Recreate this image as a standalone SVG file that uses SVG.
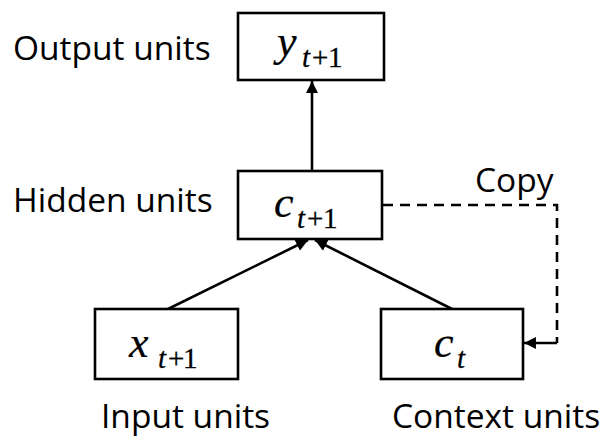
<svg xmlns="http://www.w3.org/2000/svg" width="601" height="437" viewBox="0 0 601 437">
  <style>
    .box { fill: #ffffff; stroke: #000000; stroke-width: 2.6; }
    .label { font-family: "Open Sans", "Liberation Sans", sans-serif; font-size: 33.5px; fill: #000000; }
    .var { font-family: "Liberation Serif", serif; font-style: italic; font-size: 44px; fill: #000000; stroke: #000000; stroke-width: 0.2; }
    .sub { font-family: "Liberation Serif", serif; font-size: 29px; fill: #000000; stroke: #000000; stroke-width: 0.3; }
    .sub-i { font-style: italic; }
    .edge { stroke: #000000; stroke-width: 2.6; fill: none; }
    .dash { stroke-dasharray: 10 7; }
  </style>
  <defs>
    <marker id="arrow" viewBox="0 0 10 10" refX="10" refY="5" markerWidth="4.8" markerHeight="4.6" orient="auto" markerUnits="strokeWidth">
      <path d="M0,0 L10,5 L0,10 Z" fill="#000000"/>
    </marker>
  </defs>

  <rect width="601" height="437" fill="#ffffff"/>

  <!-- connectors -->
  <g id="connectors">
    <line class="edge" x1="312" y1="171" x2="312" y2="81" marker-end="url(#arrow)"/>
    <line class="edge" x1="168" y1="309" x2="308" y2="240" marker-end="url(#arrow)"/>
    <line class="edge" x1="452" y1="309" x2="315" y2="240" marker-end="url(#arrow)"/>
    <path class="edge dash" d="M383,205 H557 V343"/>
    <line class="edge" x1="557" y1="343" x2="524" y2="343" marker-end="url(#arrow)"/>
  </g>

  <!-- output layer: y_{t+1} -->
  <g id="output">
    <rect class="box" x="238" y="13" width="146" height="67"/>
    <text class="var" x="277" y="56">y</text>
    <text class="sub" y="67"><tspan class="sub-i" x="302">t</tspan><tspan x="312">+</tspan><tspan x="328">1</tspan></text>
  </g>

  <!-- hidden layer: c_{t+1} -->
  <g id="hidden">
    <rect class="box" x="238" y="171" width="144" height="68"/>
    <text class="var" x="274" y="217">c</text>
    <text class="sub" y="228"><tspan class="sub-i" x="297">t</tspan><tspan x="307">+</tspan><tspan x="323">1</tspan></text>
  </g>

  <!-- input layer: x_{t+1} -->
  <g id="input">
    <rect class="box" x="95" y="309" width="143" height="70"/>
    <text class="var" x="129" y="357">x</text>
    <text class="sub" y="368"><tspan class="sub-i" x="158">t</tspan><tspan x="168">+</tspan><tspan x="183">1</tspan></text>
  </g>

  <!-- context layer: c_t -->
  <g id="context">
    <rect class="box" x="381" y="309" width="142" height="70"/>
    <text class="var" x="434" y="357">c</text>
    <text class="sub sub-i" x="457" y="368">t</text>
  </g>

  <!-- layer captions -->
  <g id="captions">
    <text class="label" x="13" y="60">Output units</text>
    <text class="label" x="13" y="212">Hidden units</text>
    <text class="label" x="475" y="192">Copy</text>
    <text class="label" x="101" y="428">Input units</text>
    <text class="label" x="392" y="428">Context units</text>
  </g>
</svg>
